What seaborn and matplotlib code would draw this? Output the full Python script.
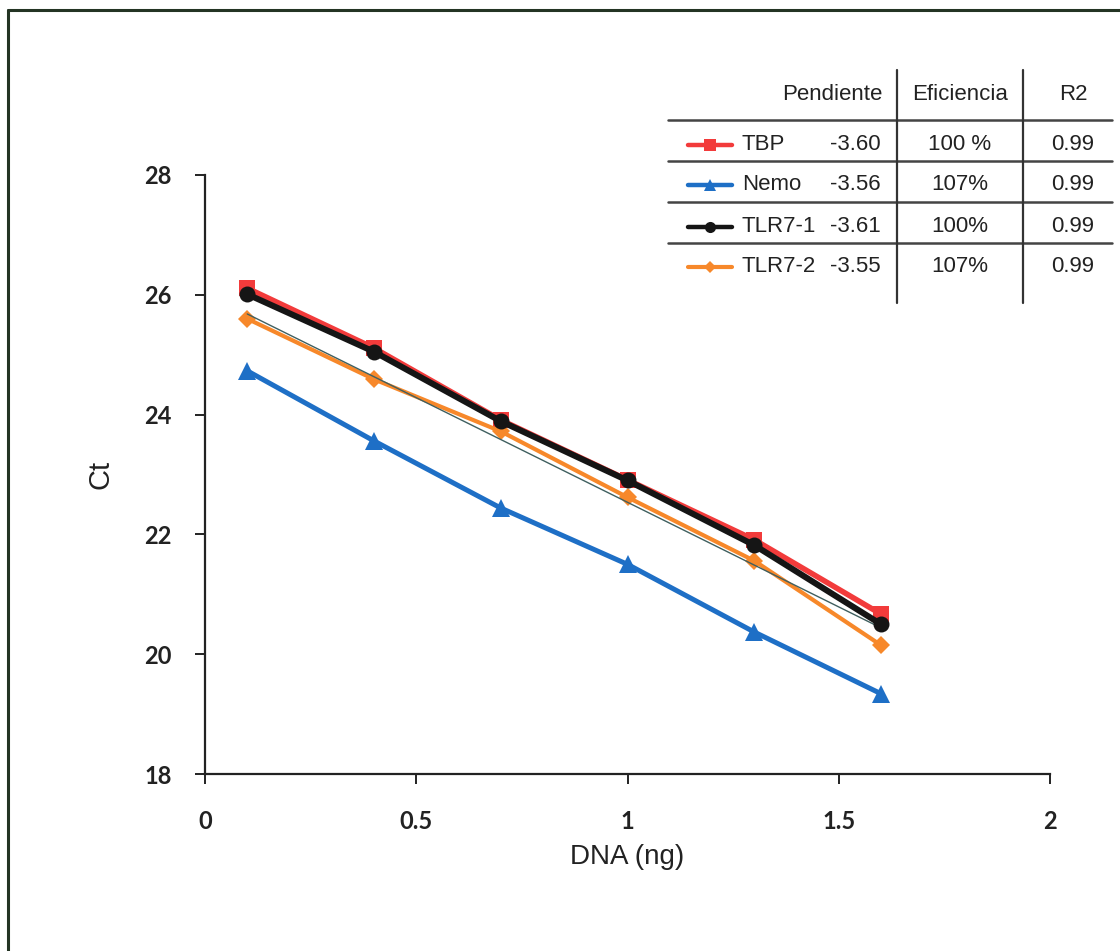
import matplotlib
matplotlib.use("Agg")
import matplotlib.pyplot as plt
from matplotlib import font_manager
from matplotlib.lines import Line2D
import seaborn as sns
import pandas as pd

# ---------------- data ----------------
dna = [0.1, 0.4, 0.7, 1.0, 1.3, 1.6]
tbp = [26.11, 25.11, 23.91, 22.91, 21.91, 20.67]
nemo = [24.73, 23.56, 22.44, 21.50, 20.37, 19.34]
tlr7_1 = [26.01, 25.05, 23.89, 22.90, 21.82, 20.50]
tlr7_2 = [25.60, 24.59, 23.72, 22.62, 21.56, 20.15]
trend_x = [0.1, 1.6]
trend_y = [25.68, 20.44]

series_names = ["TBP", "Nemo", "TLR7-1", "TLR7-2"]
pendiente = ["-3.60", "-3.56", "-3.61", "-3.55"]
eficiencia = ["100 %", "107%", "100%", "107%"]
r2 = ["0.99", "0.99", "0.99", "0.99"]
x_ticks = [0, 0.5, 1, 1.5, 2]
x_tick_labels = ["0", "0.5", "1", "1.5", "2"]
y_ticks = [18, 20, 22, 24, 26, 28]

# ---------------- fonts ----------------
def has_font(name):
    try:
        font_manager.findfont(name, fallback_to_default=False)
        return True
    except Exception:
        return False

tickfont = "Lato" if has_font("Lato") else "DejaVu Sans"
tablefont = "Liberation Sans"

sns.set_theme(style="white")
plt.rcParams["font.family"] = ["Liberation Sans", "DejaVu Sans"]

W, H = 1120, 951
fig = plt.figure(figsize=(W / 100, H / 100), dpi=100)
fig.patch.set_facecolor("white")

def fx(px):
    return px / W

def fy(py):
    return 1 - py / H

ax = fig.add_axes([fx(205), fy(774), fx(1050) - fx(205), fy(175) - fy(774)])
ax.set_facecolor("white")

styles = {
    "TBP": dict(color="#f23b3b", marker="s", lw=4.0, ms=11.5, zorder=3),
    "Nemo": dict(color="#1e6fc6", marker="^", lw=3.6, ms=12.5, zorder=3),
    "TLR7-2": dict(color="#f7882a", marker="D", lw=3.0, ms=9, zorder=4),
    "TLR7-1": dict(color="#151515", marker="o", lw=4.4, ms=11.5, zorder=6),
}
values = {"TBP": tbp, "Nemo": nemo, "TLR7-1": tlr7_1, "TLR7-2": tlr7_2}

for name in ["TBP", "Nemo", "TLR7-2"]:
    st = styles[name]
    df = pd.DataFrame({"x": dna, "y": values[name]})
    sns.lineplot(data=df, x="x", y="y", ax=ax, color=st["color"], marker=st["marker"],
                 linewidth=st["lw"], markersize=st["ms"], markeredgewidth=0,
                 zorder=st["zorder"], legend=False)

sns.lineplot(x=trend_x, y=trend_y, ax=ax, color="#3f5f5f", linewidth=1.0, zorder=5, legend=False)

st = styles["TLR7-1"]
sns.lineplot(x=dna, y=tlr7_1, ax=ax, color=st["color"], marker=st["marker"],
             linewidth=st["lw"], markersize=st["ms"], markeredgewidth=0,
             zorder=st["zorder"], legend=False)

ax.set_xlim(0, 2)
ax.set_ylim(18, 28)
ax.set_xticks(x_ticks)
ax.set_xticklabels(x_tick_labels)
ax.set_yticks(y_ticks)
ax.set_yticklabels([str(v) for v in y_ticks])

for s in ["top", "right"]:
    ax.spines[s].set_visible(False)
for s in ["left", "bottom"]:
    ax.spines[s].set_color("#222222")
    ax.spines[s].set_linewidth(1.6)

ax.tick_params(axis="both", which="major", direction="out", length=7, width=1.4,
               color="#222222", bottom=True, left=True)
ax.tick_params(axis="x", pad=19)
ax.tick_params(axis="y", pad=17)
for lab in ax.get_xticklabels() + ax.get_yticklabels():
    lab.set_fontfamily(tickfont)
    lab.set_fontweight("bold")
    lab.set_fontsize(17)
    lab.set_color("#222222")

ax.set_xlabel("DNA (ng)", fontsize=20, color="#222222", family="Liberation Sans")
ax.set_ylabel("Ct", fontsize=21, color="#222222", family="Liberation Sans")
ax.xaxis.set_label_coords(0.5, -0.117)
ax.yaxis.set_label_coords(-0.107, 0.5)

# ---------------- outer frame (left & top visible) ----------------
frame_color = "#243424"
fig.add_artist(Line2D([fx(8), fx(8)], [fy(10), 0], transform=fig.transFigure,
                      color=frame_color, lw=2.2))
fig.add_artist(Line2D([fx(8), 1], [fy(10), fy(10)], transform=fig.transFigure,
                      color=frame_color, lw=2.2))

# ---------------- table ----------------
tc = "#222222"
for py in [120, 161, 202, 243]:
    fig.add_artist(Line2D([fx(668), fx(1112)], [fy(py), fy(py)], transform=fig.transFigure,
                          color="#444444", lw=1.8))
for px in [897, 1023]:
    fig.add_artist(Line2D([fx(px), fx(px)], [fy(70), fy(303)], transform=fig.transFigure,
                          color="#333333", lw=1.6))

tfs = 16
fig.text(fx(882), fy(95), "Pendiente", ha="right", va="center", fontsize=tfs, family=tablefont, color=tc)
fig.text(fx(960), fy(95), "Eficiencia", ha="center", va="center", fontsize=tfs, family=tablefont, color=tc)
fig.text(fx(1073), fy(95), "R2", ha="center", va="center", fontsize=tfs, family=tablefont, color=tc)

row_y = [145, 185, 227, 267]
small = {"TBP": 8, "Nemo": 8, "TLR7-1": 8, "TLR7-2": 6}
for i, name in enumerate(series_names):
    st = styles[name]
    y = fy(row_y[i])
    fig.add_artist(Line2D([fx(688), fx(732)], [y, y], transform=fig.transFigure,
                          color=st["color"], lw=min(st["lw"], 3.2)))
    fig.add_artist(Line2D([fx(710)], [y], transform=fig.transFigure, color=st["color"],
                          marker=st["marker"], ms=small[name], mew=0, lw=0))
    fig.text(fx(742), y, name, ha="left", va="center", fontsize=tfs, family=tablefont, color=tc)
    fig.text(fx(881), y, pendiente[i], ha="right", va="center", fontsize=tfs, family=tablefont, color=tc)
    fig.text(fx(960), y, eficiencia[i], ha="center", va="center", fontsize=tfs, family=tablefont, color=tc)
    fig.text(fx(1073), y, r2[i], ha="center", va="center", fontsize=tfs, family=tablefont, color=tc)

fig.savefig("out.png", dpi=100, facecolor="white")
